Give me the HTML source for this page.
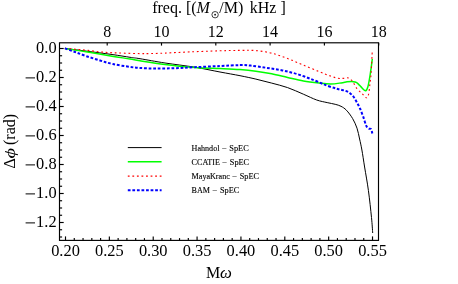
<!DOCTYPE html>
<html><head><meta charset="utf-8"><style>
html,body{margin:0;padding:0;background:#fff;}
svg{display:block;font-family:"Liberation Serif",serif;}
</style></head><body>
<svg style="will-change:transform" width="458" height="284" viewBox="0 0 458 284">
<rect width="458" height="284" fill="#fff"/>
<g fill="none" stroke-linejoin="round">
<path d="M64.90,48.40 C68.42,48.85 78.15,50.08 86.00,51.10 C93.85,52.12 104.67,53.47 112.00,54.50 C119.33,55.53 125.33,56.60 130.00,57.30 C134.67,58.00 134.17,57.75 140.00,58.70 C145.83,59.65 155.87,61.58 165.00,63.00 C174.13,64.42 185.63,65.70 194.80,67.20 C203.97,68.70 212.47,70.58 220.00,72.00 C227.53,73.42 234.02,74.52 240.00,75.70 C245.98,76.88 250.62,77.87 255.90,79.10 C261.18,80.33 266.42,81.68 271.70,83.10 C276.98,84.52 282.32,85.75 287.60,87.60 C292.88,89.45 298.55,92.13 303.40,94.20 C308.25,96.27 312.73,98.60 316.70,100.00 C320.67,101.40 324.12,101.88 327.20,102.60 C330.28,103.32 332.90,103.68 335.20,104.30 C337.50,104.92 339.13,105.32 341.00,106.30 C342.87,107.28 344.47,108.17 346.40,110.20 C348.33,112.23 350.83,115.50 352.60,118.50 C354.37,121.50 355.83,124.78 357.00,128.20 C358.17,131.62 358.78,135.37 359.60,139.00 C360.42,142.63 361.07,145.33 361.90,150.00 C362.73,154.67 363.52,160.27 364.60,167.00 C365.68,173.73 367.25,181.98 368.40,190.40 C369.55,198.82 370.78,210.40 371.50,217.50 C372.22,224.60 372.50,230.42 372.70,233.00" stroke="#000" stroke-width="1.0"/>
<path d="M64.90,48.40 C68.42,48.97 78.15,50.50 86.00,51.80 C93.85,53.10 104.67,55.00 112.00,56.20 C119.33,57.40 125.33,58.23 130.00,59.00 C134.67,59.77 134.17,59.88 140.00,60.80 C145.83,61.72 155.87,63.37 165.00,64.50 C174.13,65.63 185.63,66.92 194.80,67.60 C203.97,68.28 212.47,68.27 220.00,68.60 C227.53,68.93 234.02,69.17 240.00,69.60 C245.98,70.03 250.62,70.50 255.90,71.20 C261.18,71.90 266.42,72.75 271.70,73.80 C276.98,74.85 282.32,76.30 287.60,77.50 C292.88,78.70 298.12,80.07 303.40,81.00 C308.68,81.93 314.77,82.60 319.30,83.10 C323.83,83.60 326.97,84.03 330.60,84.00 C334.23,83.97 338.37,83.27 341.10,82.90 C343.83,82.53 345.23,82.05 347.00,81.80 C348.77,81.55 350.37,81.37 351.70,81.40 C353.03,81.43 353.97,81.63 355.00,82.00 C356.03,82.37 356.68,82.55 357.90,83.60 C359.12,84.65 361.03,87.10 362.30,88.30 C363.57,89.50 364.57,91.07 365.50,90.80 C366.43,90.53 367.12,89.42 367.90,86.70 C368.68,83.98 369.47,79.12 370.20,74.50 C370.93,69.88 371.95,61.58 372.30,59.00" stroke="#00ff00" stroke-width="1.5"/>
<path d="M64.90,48.40 C66.75,48.55 72.15,48.97 76.00,49.30 C79.85,49.63 84.00,49.97 88.00,50.40 C92.00,50.83 96.00,51.52 100.00,51.90 C104.00,52.28 107.83,52.48 112.00,52.70 C116.17,52.92 120.33,53.05 125.00,53.20 C129.67,53.35 135.83,53.53 140.00,53.60 C144.17,53.67 145.83,53.68 150.00,53.60 C154.17,53.52 158.33,53.38 165.00,53.10 C171.67,52.82 180.83,52.28 190.00,51.90 C199.17,51.52 211.67,51.05 220.00,50.80 C228.33,50.55 234.02,50.43 240.00,50.40 C245.98,50.37 250.62,50.13 255.90,50.60 C261.18,51.07 266.42,51.88 271.70,53.20 C276.98,54.52 282.32,56.52 287.60,58.50 C292.88,60.48 298.12,62.90 303.40,65.10 C308.68,67.30 314.77,69.87 319.30,71.70 C323.83,73.53 327.55,75.02 330.60,76.10 C333.65,77.18 335.53,77.82 337.60,78.20 C339.67,78.58 341.23,78.45 343.00,78.40 C344.77,78.35 346.60,77.40 348.20,77.90 C349.80,78.40 351.13,79.58 352.60,81.40 C354.07,83.22 355.38,86.73 357.00,88.80 C358.62,90.87 360.77,92.30 362.30,93.80 C363.83,95.30 365.17,97.65 366.20,97.80 C367.23,97.95 367.88,96.98 368.50,94.70 C369.12,92.42 369.47,87.63 369.90,84.10 C370.33,80.57 370.70,79.15 371.10,73.50 C371.50,67.85 372.10,54.08 372.30,50.20" stroke="#ff0000" stroke-width="1.1" stroke-dasharray="1.8 2.76"/>
<path d="M64.90,48.40 C66.58,49.00 71.42,50.70 75.00,52.00 C78.58,53.30 82.23,54.78 86.40,56.20 C90.57,57.62 95.58,59.18 100.00,60.50 C104.42,61.82 107.90,63.03 112.90,64.10 C117.90,65.17 125.48,66.25 130.00,66.90 C134.52,67.55 135.67,67.73 140.00,68.00 C144.33,68.27 150.17,68.47 156.00,68.50 C161.83,68.53 168.53,68.42 175.00,68.20 C181.47,67.98 187.30,67.57 194.80,67.20 C202.30,66.83 212.47,66.35 220.00,66.00 C227.53,65.65 234.90,65.17 240.00,65.10 C245.10,65.03 246.20,65.15 250.60,65.60 C255.00,66.05 261.12,67.00 266.40,67.80 C271.68,68.60 277.00,69.30 282.30,70.40 C287.60,71.50 292.92,72.77 298.20,74.40 C303.48,76.03 309.17,78.32 314.00,80.20 C318.83,82.08 323.23,84.23 327.20,85.70 C331.17,87.17 334.72,88.13 337.80,89.00 C340.88,89.87 343.67,90.20 345.70,90.90 C347.73,91.60 348.67,92.18 350.00,93.20 C351.33,94.22 352.53,95.43 353.70,97.00 C354.87,98.57 355.95,100.68 357.00,102.60 C358.05,104.52 358.97,106.15 360.00,108.50 C361.03,110.85 362.17,113.85 363.20,116.70 C364.23,119.55 365.32,123.63 366.20,125.60 C367.08,127.57 367.68,127.92 368.50,128.50 C369.32,129.08 370.47,128.27 371.10,129.10 C371.73,129.93 372.10,132.77 372.30,133.50" stroke="#0000ff" stroke-width="2.0" stroke-dasharray="2.75 1.81"/>
</g>
<g stroke="#000" stroke-width="1.15" fill="none">
<rect x="59.5" y="42.8" width="319.0" height="197.60000000000002"/>
<line x1="65.50" y1="240.40" x2="65.50" y2="236.40"/>
<line x1="74.27" y1="240.40" x2="74.27" y2="238.10"/>
<line x1="83.04" y1="240.40" x2="83.04" y2="238.10"/>
<line x1="91.82" y1="240.40" x2="91.82" y2="238.10"/>
<line x1="100.59" y1="240.40" x2="100.59" y2="238.10"/>
<line x1="109.36" y1="240.40" x2="109.36" y2="236.40"/>
<line x1="118.13" y1="240.40" x2="118.13" y2="238.10"/>
<line x1="126.90" y1="240.40" x2="126.90" y2="238.10"/>
<line x1="135.68" y1="240.40" x2="135.68" y2="238.10"/>
<line x1="144.45" y1="240.40" x2="144.45" y2="238.10"/>
<line x1="153.22" y1="240.40" x2="153.22" y2="236.40"/>
<line x1="161.99" y1="240.40" x2="161.99" y2="238.10"/>
<line x1="170.76" y1="240.40" x2="170.76" y2="238.10"/>
<line x1="179.54" y1="240.40" x2="179.54" y2="238.10"/>
<line x1="188.31" y1="240.40" x2="188.31" y2="238.10"/>
<line x1="197.08" y1="240.40" x2="197.08" y2="236.40"/>
<line x1="205.85" y1="240.40" x2="205.85" y2="238.10"/>
<line x1="214.62" y1="240.40" x2="214.62" y2="238.10"/>
<line x1="223.40" y1="240.40" x2="223.40" y2="238.10"/>
<line x1="232.17" y1="240.40" x2="232.17" y2="238.10"/>
<line x1="240.94" y1="240.40" x2="240.94" y2="236.40"/>
<line x1="249.71" y1="240.40" x2="249.71" y2="238.10"/>
<line x1="258.48" y1="240.40" x2="258.48" y2="238.10"/>
<line x1="267.26" y1="240.40" x2="267.26" y2="238.10"/>
<line x1="276.03" y1="240.40" x2="276.03" y2="238.10"/>
<line x1="284.80" y1="240.40" x2="284.80" y2="236.40"/>
<line x1="293.57" y1="240.40" x2="293.57" y2="238.10"/>
<line x1="302.34" y1="240.40" x2="302.34" y2="238.10"/>
<line x1="311.12" y1="240.40" x2="311.12" y2="238.10"/>
<line x1="319.89" y1="240.40" x2="319.89" y2="238.10"/>
<line x1="328.66" y1="240.40" x2="328.66" y2="236.40"/>
<line x1="337.43" y1="240.40" x2="337.43" y2="238.10"/>
<line x1="346.20" y1="240.40" x2="346.20" y2="238.10"/>
<line x1="354.98" y1="240.40" x2="354.98" y2="238.10"/>
<line x1="363.75" y1="240.40" x2="363.75" y2="238.10"/>
<line x1="372.52" y1="240.40" x2="372.52" y2="236.40"/>
<line x1="59.50" y1="48.50" x2="63.70" y2="48.50"/>
<line x1="59.50" y1="55.75" x2="62.10" y2="55.75"/>
<line x1="59.50" y1="63.00" x2="62.10" y2="63.00"/>
<line x1="59.50" y1="70.25" x2="62.10" y2="70.25"/>
<line x1="59.50" y1="77.50" x2="63.70" y2="77.50"/>
<line x1="59.50" y1="84.75" x2="62.10" y2="84.75"/>
<line x1="59.50" y1="92.00" x2="62.10" y2="92.00"/>
<line x1="59.50" y1="99.25" x2="62.10" y2="99.25"/>
<line x1="59.50" y1="106.50" x2="63.70" y2="106.50"/>
<line x1="59.50" y1="113.75" x2="62.10" y2="113.75"/>
<line x1="59.50" y1="121.00" x2="62.10" y2="121.00"/>
<line x1="59.50" y1="128.25" x2="62.10" y2="128.25"/>
<line x1="59.50" y1="135.50" x2="63.70" y2="135.50"/>
<line x1="59.50" y1="142.75" x2="62.10" y2="142.75"/>
<line x1="59.50" y1="150.00" x2="62.10" y2="150.00"/>
<line x1="59.50" y1="157.25" x2="62.10" y2="157.25"/>
<line x1="59.50" y1="164.50" x2="63.70" y2="164.50"/>
<line x1="59.50" y1="171.75" x2="62.10" y2="171.75"/>
<line x1="59.50" y1="179.00" x2="62.10" y2="179.00"/>
<line x1="59.50" y1="186.25" x2="62.10" y2="186.25"/>
<line x1="59.50" y1="193.50" x2="63.70" y2="193.50"/>
<line x1="59.50" y1="200.75" x2="62.10" y2="200.75"/>
<line x1="59.50" y1="208.00" x2="62.10" y2="208.00"/>
<line x1="59.50" y1="215.25" x2="62.10" y2="215.25"/>
<line x1="59.50" y1="222.50" x2="63.70" y2="222.50"/>
<line x1="59.50" y1="229.75" x2="62.10" y2="229.75"/>
<line x1="59.50" y1="237.00" x2="62.10" y2="237.00"/>
<line x1="107.20" y1="42.80" x2="107.20" y2="45.60"/>
<line x1="161.50" y1="42.80" x2="161.50" y2="45.60"/>
<line x1="215.80" y1="42.80" x2="215.80" y2="45.60"/>
<line x1="270.10" y1="42.80" x2="270.10" y2="45.60"/>
<line x1="324.40" y1="42.80" x2="324.40" y2="45.60"/>
<line x1="378.70" y1="42.80" x2="378.70" y2="45.60"/>
</g>
<g font-size="16.0" fill="#000">
<text x="65.50" y="256.3" font-size="16.4" text-anchor="middle">0.20</text>
<text x="109.36" y="256.3" font-size="16.4" text-anchor="middle">0.25</text>
<text x="153.22" y="256.3" font-size="16.4" text-anchor="middle">0.30</text>
<text x="197.08" y="256.3" font-size="16.4" text-anchor="middle">0.35</text>
<text x="240.94" y="256.3" font-size="16.4" text-anchor="middle">0.40</text>
<text x="284.80" y="256.3" font-size="16.4" text-anchor="middle">0.45</text>
<text x="328.66" y="256.3" font-size="16.4" text-anchor="middle">0.50</text>
<text x="372.52" y="256.3" font-size="16.4" text-anchor="middle">0.55</text>
<text x="56.6" y="53.40" font-size="16.4" text-anchor="end">0.0</text>
<text x="56.6" y="82.40" font-size="16.4" text-anchor="end">0.2</text>
<line x1="25.6" y1="77.90" x2="35.0" y2="77.90" stroke="#000" stroke-width="1"/>
<text x="56.6" y="111.40" font-size="16.4" text-anchor="end">0.4</text>
<line x1="25.6" y1="106.90" x2="35.0" y2="106.90" stroke="#000" stroke-width="1"/>
<text x="56.6" y="140.40" font-size="16.4" text-anchor="end">0.6</text>
<line x1="25.6" y1="135.90" x2="35.0" y2="135.90" stroke="#000" stroke-width="1"/>
<text x="56.6" y="169.40" font-size="16.4" text-anchor="end">0.8</text>
<line x1="25.6" y1="164.90" x2="35.0" y2="164.90" stroke="#000" stroke-width="1"/>
<text x="56.6" y="198.40" font-size="16.4" text-anchor="end">1.0</text>
<line x1="25.6" y1="193.90" x2="35.0" y2="193.90" stroke="#000" stroke-width="1"/>
<text x="56.6" y="227.40" font-size="16.4" text-anchor="end">1.2</text>
<line x1="25.6" y1="222.90" x2="35.0" y2="222.90" stroke="#000" stroke-width="1"/>
<text x="107.20" y="36.6" text-anchor="middle">8</text>
<text x="161.50" y="36.6" text-anchor="middle">10</text>
<text x="215.80" y="36.6" text-anchor="middle">12</text>
<text x="270.10" y="36.6" text-anchor="middle">14</text>
<text x="324.40" y="36.6" text-anchor="middle">16</text>
<text x="378.70" y="36.6" text-anchor="middle">18</text>
</g>
<g font-size="16.0" fill="#000">
<text x="152.2" y="13.3">freq. [(<tspan font-style="italic">M</tspan></text>
<circle cx="215.1" cy="14.7" r="3.2" fill="none" stroke="#000" stroke-width="0.75"/>
<circle cx="215.1" cy="14.7" r="0.85" fill="#000"/>
<text x="219.3" y="13.3">/M)</text>
<text x="249.8" y="13.3">kHz ]</text>
<text x="206.1" y="277.6">M</text>
<text transform="translate(220.0,277.6) scale(1.05,1)" font-style="italic">&#969;</text>
<g transform="translate(14.5,168.5) rotate(-90)">
<text x="0" y="0">&#916;</text>
<text transform="translate(9.9,0) scale(1.28,0.93)" font-style="italic">&#981;</text>
<text x="23.5" y="0">(rad)</text>
</g>
</g>
<g fill="none">
<line x1="127.8" y1="147.6" x2="161.6" y2="147.6" stroke="#000" stroke-width="1.0"/>
<line x1="127.8" y1="161.8" x2="161.6" y2="161.8" stroke="#00ff00" stroke-width="1.5"/>
<line x1="127.8" y1="176.1" x2="161.6" y2="176.1" stroke="#ff0000" stroke-width="1.1" stroke-dasharray="1.8 2.76"/>
<line x1="127.8" y1="190.3" x2="161.6" y2="190.3" stroke="#0000ff" stroke-width="2.0" stroke-dasharray="2.75 1.81"/>
</g>
<g font-size="8.1" fill="#000" word-spacing="0.4" stroke="#000" stroke-width="0.12">
<text x="191.6" y="150.5">Hahndol <tspan font-size="8.8">&#8722;</tspan> <tspan font-size="8.3">SpEC</tspan></text>
<text x="191.6" y="164.9">CCATIE <tspan font-size="8.8">&#8722;</tspan> <tspan font-size="8.3">SpEC</tspan></text>
<text x="191.6" y="179.3">MayaKranc <tspan font-size="8.8">&#8722;</tspan> <tspan font-size="8.3">SpEC</tspan></text>
<text x="191.6" y="193.3">BAM <tspan font-size="8.8">&#8722;</tspan> <tspan font-size="8.3">SpEC</tspan></text>
</g>
</svg>
</body></html>
